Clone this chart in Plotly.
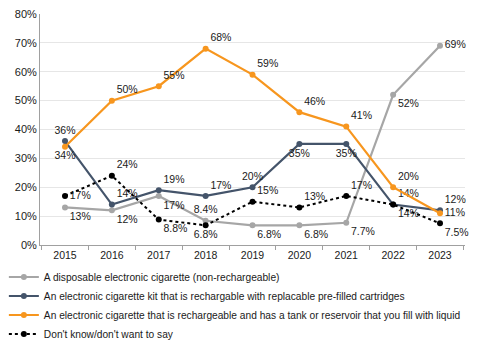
import plotly.graph_objects as go

years = ["2015", "2016", "2017", "2018", "2019", "2020", "2021", "2022", "2023"]

disposable = [13, 12, 17, 8.4, 6.8, 6.8, 7.7, 52, 69]
kit = [36, 14, 19, 17, 20, 35, 35, 14, 12]
tank = [34, 50, 55, 68, 59, 46, 41, 20, 11]
dontknow = [17, 24, 8.8, 6.8, 15, 13, 17, 14, 7.5]

names = [
    "A disposable electronic cigarette (non-rechargeable)",
    "An electronic cigarette kit that is rechargable with replacable pre-filled cartridges",
    "An electronic cigarette that is rechargeable and has a tank or reservoir that you fill with liquid",
    "Don't know/don't want to say",
]

pos_disp = ["bottom right", "bottom right", "bottom right", "top center", "bottom right",
            "bottom right", "bottom right", "bottom right", "middle right"]
pos_kit = ["top center", "top right", "top right", "top right", "top center",
           "bottom center", "bottom center", "top right", "top right"]
pos_tank = ["bottom center", "top right", "top right", "top right", "top right",
            "top right", "top right", "top right", "middle right"]
pos_dk = ["middle right", "top right", "bottom right", "bottom center", "top right",
          "top right", "top right", "bottom right", "bottom right"]


def fmt(v):
    return f"{v:g}%"


series = [
    (disposable, names[0], "#a6a6a6", "solid", pos_disp),
    (kit, names[1], "#44546a", "solid", pos_kit),
    (tank, names[2], "#f7961e", "solid", pos_tank),
    (dontknow, names[3], "#000000", "dot", pos_dk),
]

fig = go.Figure()
for vals, name, color, dash, pos in series:
    fig.add_trace(go.Scatter(
        x=years, y=vals, name=name, mode="lines+markers+text",
        line=dict(color=color, width=2.2 if dash == "solid" else 2, dash=dash),
        marker=dict(color=color, size=6),
        text=[fmt(v) for v in vals], textposition=pos,
        textfont=dict(family="Liberation Sans, Arial, sans-serif", size=10.5, color="#1a1a1a"),
        cliponaxis=False,
    ))

fig.update_layout(
    width=483, height=350,
    margin=dict(l=40, r=18, t=14, b=105, autoexpand=False),
    paper_bgcolor="white", plot_bgcolor="white",
    font=dict(family="Liberation Sans, Arial, sans-serif", size=10.5, color="#1a1a1a"),
    showlegend=True,
    legend=dict(
        orientation="v", xref="container", yref="container",
        x=0.008, y=0.25, xanchor="left", yanchor="top",
        font=dict(size=10.2), tracegroupgap=0, itemwidth=30,
        bgcolor="rgba(0,0,0,0)",
    ),
)
fig.update_xaxes(
    type="category", showgrid=False, showline=True, linecolor="#a0a0a0", linewidth=1,
    ticks="outside", tickson="boundaries", ticklen=4, tickcolor="#a0a0a0",
    tickfont=dict(size=10.5, color="#1a1a1a"),
)
fig.update_yaxes(
    range=[0, 80], dtick=10, ticksuffix="%", showgrid=True, gridcolor="#e6e6e6",
    showline=True, linecolor="#a0a0a0", linewidth=1, zeroline=False,
    tickfont=dict(size=11, color="#1a1a1a"),
)

fig.write_html("out.html")
